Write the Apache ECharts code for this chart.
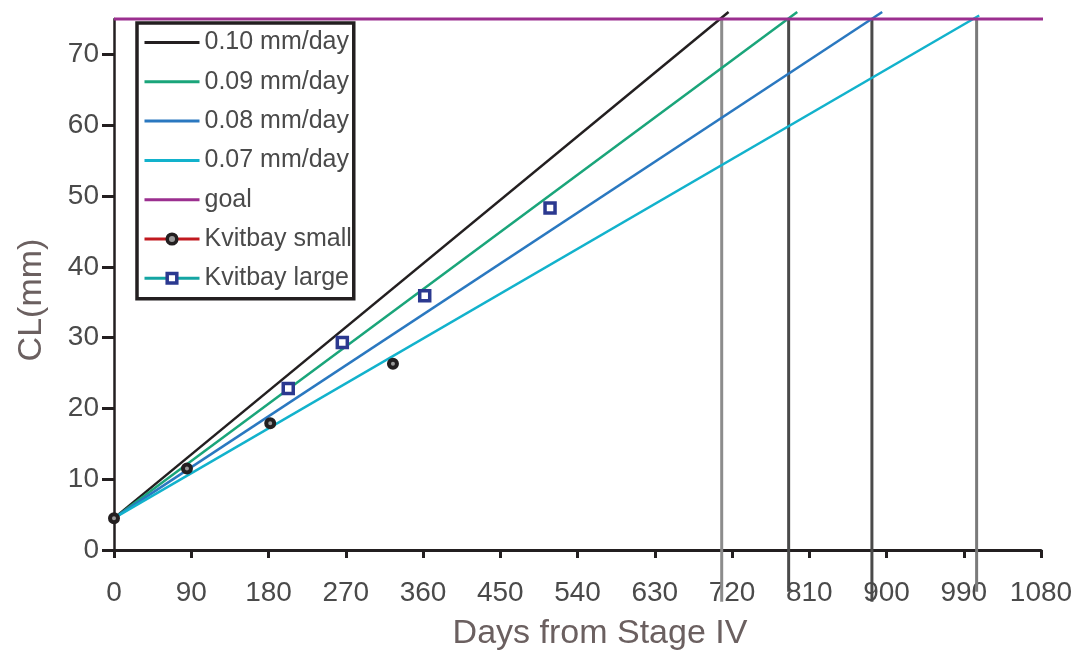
<!DOCTYPE html>
<html>
<head>
<meta charset="utf-8">
<script src="https://cdn.jsdelivr.net/npm/echarts@6/dist/echarts.min.js"></script>
<style>
html,body{margin:0;padding:0;background:#fff;}
#chart{width:1074px;height:653px;}
</style>
</head>
<body>
<div id="chart"></div>
<script>
// ---- data ----
const seriesNames = ['0.10 mm/day', '0.09 mm/day', '0.08 mm/day', '0.07 mm/day', 'goal', 'Kvitbay small', 'Kvitbay large'];
const rate010 = [[0, 4.5], [716, 76.0]];
const rate009 = [[0, 4.5], [796, 76.0]];
const rate008 = [[0, 4.5], [895, 76.0]];
const rate007 = [[0, 4.5], [1008, 75.5]];
const goalLine = [[0, 75], [1090, 75]];
const smallDays = [0, 85, 182, 325];
const smallCL = [4.5, 11.5, 17.9, 26.3];
const largeDays = [203, 266, 362, 508];
const largeCL = [22.8, 29.3, 35.9, 48.3];
const reachDays = [708, 786, 883, 1005];
const reachTop = [75, 75, 75, 75];
const reachBottom = [-7.3, -5.9, -7.3, -5.9];
const xTicks = [0, 90, 180, 270, 360, 450, 540, 630, 720, 810, 900, 990, 1080];
const yTicks = [0, 10, 20, 30, 40, 50, 60, 70];

const rateColors = ['#231f20', '#1aa57a', '#2a78c0', '#12b2cc'];
const reachColors = ['#8c8c8c', '#4a4a4a', '#4a4a4a', '#7a7a7a'];

const rateData = [rate010, rate009, rate008, rate007];

const series = [];
reachDays.forEach((d, i) => {
  series.push({
    name: 'reach' + i, type: 'line', symbol: 'none', clip: false, silent: true, z: 1,
    data: [[d, reachTop[i]], [d, reachBottom[i]]],
    lineStyle: { color: reachColors[i], width: 3 }
  });
});
rateData.forEach((d, i) => {
  series.push({
    name: seriesNames[i], type: 'line', symbol: 'none', clip: false, z: 2,
    data: d, color: rateColors[i],
    lineStyle: { color: rateColors[i], width: 2.5 }
  });
});
series.push({
  name: seriesNames[4], type: 'line', symbol: 'none', clip: false, z: 3,
  data: goalLine, color: '#9b2f8f',
  lineStyle: { color: '#9b2f8f', width: 3 }
});
series.push({
  name: seriesNames[5], type: 'line', symbol: 'circle', symbolSize: 8, z: 5,
  data: smallDays.map((d, i) => [d, smallCL[i]]),
  itemStyle: { color: '#9a9a9a', borderColor: '#231f20', borderWidth: 4 },
  lineStyle: { opacity: 0 }
});
series.push({
  name: seriesNames[6], type: 'line', symbol: 'rect', symbolSize: 10, z: 5,
  data: largeDays.map((d, i) => [d, largeCL[i]]),
  itemStyle: { color: '#ffffff', borderColor: '#2b3990', borderWidth: 3.5 },
  lineStyle: { opacity: 0 }
});

const legendData = seriesNames.map((n, i) => {
  if (i === 5) return { name: n, itemStyle: { borderWidth: 3.5 }, lineStyle: { color: '#c1191f', width: 3, opacity: 1 } };
  if (i === 6) return { name: n, itemStyle: { borderWidth: 3.5 }, lineStyle: { color: '#14a5a3', width: 3, opacity: 1 } };
  return { name: n, itemStyle: { opacity: 0 } };
});

const chart = echarts.init(document.getElementById('chart'), null, { renderer: 'canvas' });
chart.setOption({
  animation: false,
  backgroundColor: '#ffffff',
  textStyle: { fontFamily: 'Liberation Sans' },
  grid: { left: 114, right: 33, top: 19, bottom: 103, containLabel: false, outerBoundsMode: 'none' },
  legend: {
    orient: 'vertical', left: 137, top: 23,
    padding: [7, 2, 8, 6],
    borderColor: '#231f20', borderWidth: 3.5,
    backgroundColor: '#ffffff',
    itemWidth: 55, itemHeight: 12, itemGap: 14.3,
    lineStyle: { width: 3 },
    textStyle: { fontFamily: 'Liberation Sans', fontSize: 25, lineHeight: 25, color: '#4a4a4a' },
    data: legendData,
    selectedMode: false
  },
  xAxis: {
    type: 'value', min: 0, max: 1080, interval: 90,
    name: 'Days from Stage IV', nameLocation: 'middle', nameGap: 67,
    nameTextStyle: { fontFamily: 'Liberation Sans', fontSize: 34, color: '#6b6060', padding: [0, 0, 0, 45] },
    axisLine: { show: true, onZero: false, lineStyle: { color: '#231f20', width: 3 } },
    axisTick: { show: true, inside: false, length: 8, lineStyle: { color: '#231f20', width: 3 } },
    axisLabel: { margin: 29, fontFamily: 'Liberation Sans', fontSize: 28, color: '#4a4a4a', customValues: xTicks, formatter: v => String(v) },
    splitLine: { show: false }
  },
  yAxis: {
    type: 'value', min: 0, max: 75,
    name: 'CL(mm)', nameLocation: 'middle', nameGap: 65,
    nameTextStyle: { fontFamily: 'Liberation Sans', fontSize: 34, color: '#6b6060', padding: [0, 31, 0, 0] },
    axisLine: { show: true, onZero: false, lineStyle: { color: '#231f20', width: 2.5 } },
    axisTick: { show: true, inside: false, length: 12, lineStyle: { color: '#231f20', width: 3 }, customValues: yTicks },
    axisLabel: { margin: 15, fontFamily: 'Liberation Sans', fontSize: 28, color: '#4a4a4a', customValues: yTicks, formatter: v => String(v) },
    splitLine: { show: false }
  },
  series: series
});
</script>
</body>
</html>
